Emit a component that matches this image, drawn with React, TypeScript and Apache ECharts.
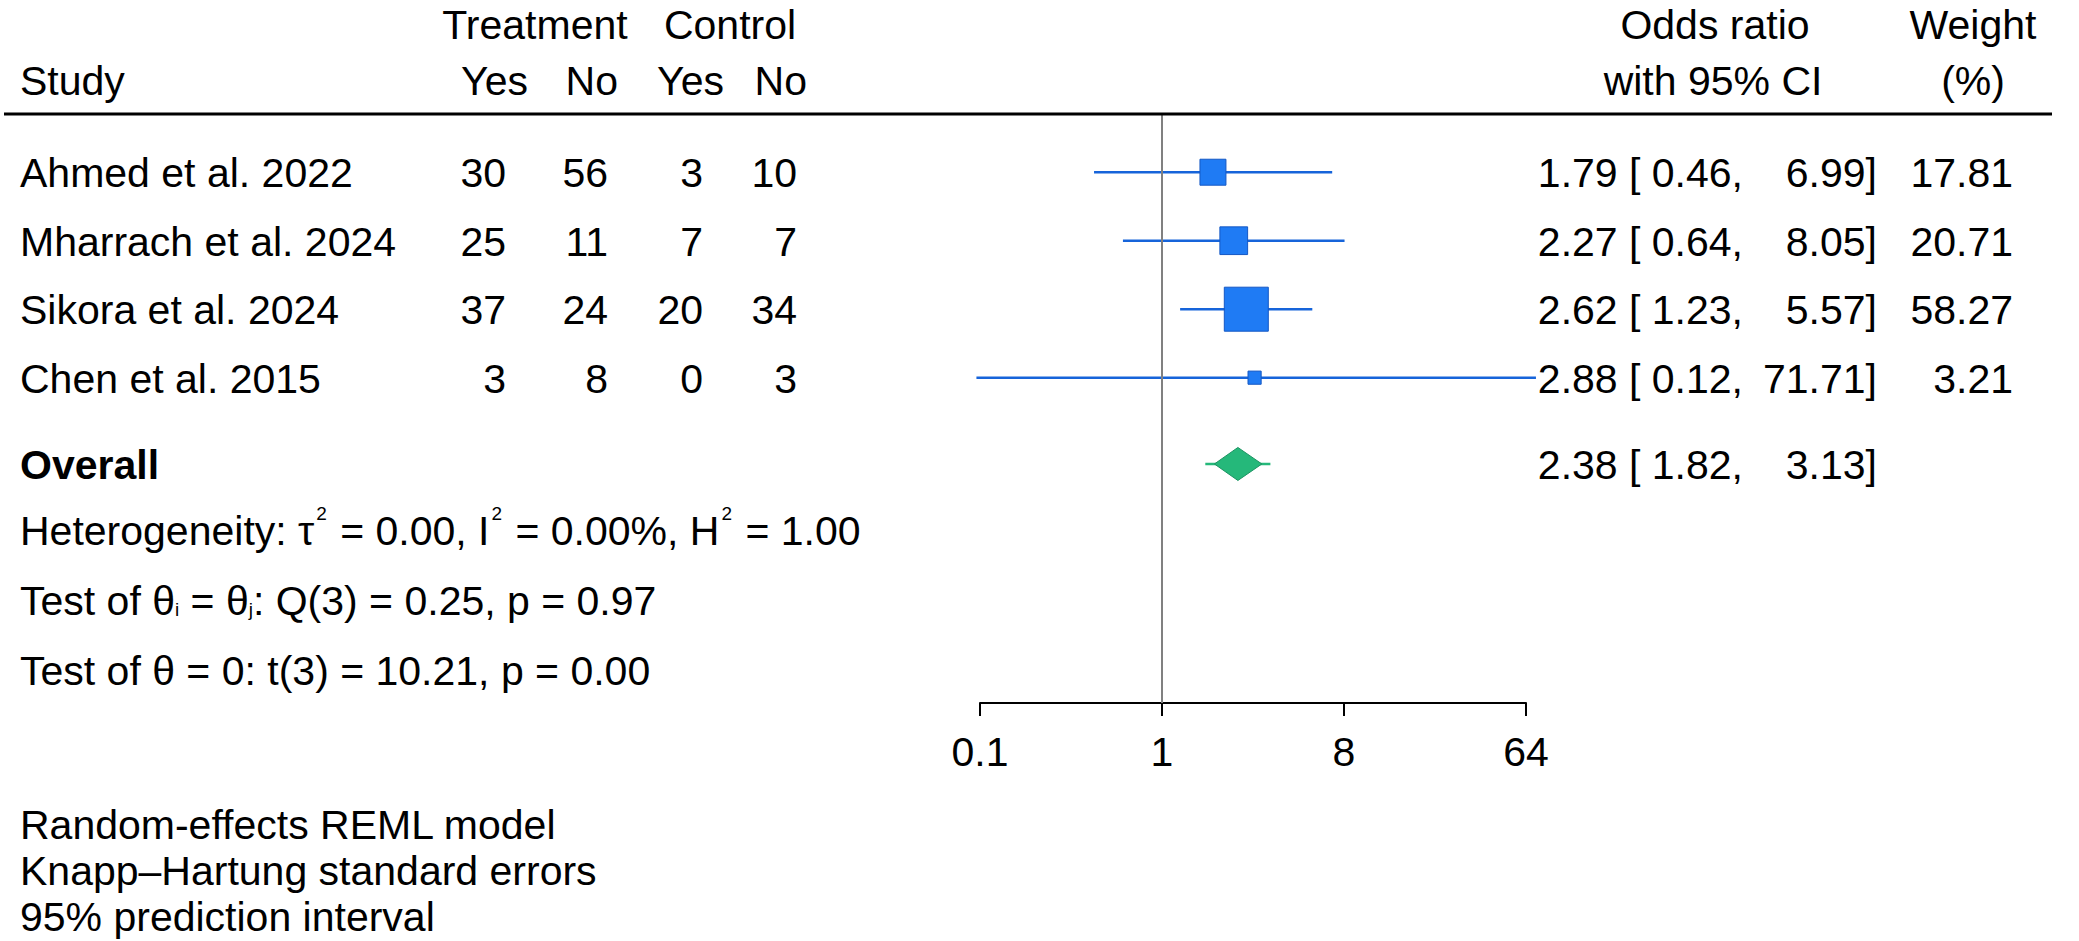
import React, { useEffect, useRef } from "react";
import * as echarts from "echarts";

// ---------------- data ----------------
const studies = ["Ahmed et al. 2022", "Mharrach et al. 2024", "Sikora et al. 2024", "Chen et al. 2015"];
const treatmentYes = [30, 25, 37, 3];
const treatmentNo = [56, 11, 24, 8];
const controlYes = [3, 7, 20, 0];
const controlNo = [10, 7, 34, 3];
const oddsRatio = [1.79, 2.27, 2.62, 2.88];
const ciLower = [0.46, 0.64, 1.23, 0.12];
const ciUpper = [6.99, 8.05, 5.57, 71.71];
const weights = [17.81, 20.71, 58.27, 3.21];
// overall: estimate, lower, upper
const overallEstimate = [2.38, 1.82, 3.13];
// 95% prediction interval (lower, upper)
const predictionInterval = [1.64, 3.45];
const xTickValues = [0.125, 1, 8, 64];
const xTickLabels = ["0.1", "1", "8", "64"];
const heterogeneity = ["0.00", "0.00%", "1.00"]; // tau2, I2, H2
const testQ = ["3", "0.25", "0.97"]; // df, Q, p
const testT = ["3", "10.21", "0.00"]; // df, t, p
const notes = ["Random-effects REML model", "Knapp\u2013Hartung standard errors", "95% prediction interval"];

// ---------------- layout ----------------
const W = 2079;
const H = 941;
const FONT = '"Liberation Sans", Arial, Helvetica, sans-serif';
const FS = 41;
const SMALL_FS = 19;
const GRID_TOP = 114;
const AXIS_Y = 703;
const X_LEFT = 980;
const X_RIGHT = 1526;
const Y_MIN = 0.15;
const Y_MAX = 8.75;
const STUDY_ROWS = [1, 2, 3, 4];
const OVERALL_ROW = 5.26;
const rowPx = (r: number) => GRID_TOP + ((r - Y_MIN) * (AXIS_Y - GRID_TOP)) / (Y_MAX - Y_MIN);

const BLUE_LINE = "#1664da";
const BLUE_FILL = "#1f7bf4";
const BLUE_EDGE = "#1558c4";
const GREEN_FILL = "#25b87a";
const GREEN_EDGE = "#1c9462";

let measureCtx: CanvasRenderingContext2D | null = null;
function textWidth(t: string, size: number, weight = "normal") {
  if (!measureCtx) measureCtx = document.createElement("canvas").getContext("2d");
  if (!measureCtx) return t.length * size * 0.5;
  measureCtx.font = `${weight} ${size}px ${FONT}`;
  return measureCtx.measureText(t).width;
}

function txt(text: string, x: number, y: number, opts: any = {}) {
  const align = opts.align ?? "left";
  const style: any = {
    text,
    fill: "#000",
    fontSize: opts.size ?? FS,
    fontFamily: FONT,
    fontWeight: opts.weight ?? "normal",
    align,
    textAlign: align,
    verticalAlign: "middle",
    textVerticalAlign: "middle",
  };
  return { type: "text", x, y, silent: true, style };
}

type Part = [string, "n" | "sup" | "sub"];
function partsLine(parts: Part[], x0: number, y: number) {
  const els: any[] = [];
  let x = x0;
  for (const [t, kind] of parts) {
    const size = kind === "n" ? FS : SMALL_FS;
    const dy = kind === "sup" ? -18 : kind === "sub" ? 8 : 0;
    const pad = kind === "sup" ? 2 : 0;
    const lead = t.length - t.replace(/^\s+/, "").length;
    const leadW = lead ? textWidth(t.slice(0, lead), size) : 0;
    const body = t.trim();
    if (body) els.push(txt(body, x + leadW + pad, y + dy, { size }));
    x += textWidth(t, size) + pad * 2;
  }
  return els;
}

export default function App() {
  const ref = useRef<HTMLDivElement>(null);

  useEffect(() => {
    if (!ref.current) return;
    const chart = echarts.init(ref.current, undefined, { renderer: "svg", width: W, height: H });

    const studyData = studies.map((_, i) => [oddsRatio[i], ciLower[i], ciUpper[i], STUDY_ROWS[i], weights[i]]);
    const overallData = [[overallEstimate[0], overallEstimate[1], overallEstimate[2], OVERALL_ROW, predictionInterval[0], predictionInterval[1]]];

    const g: any[] = [];
    // header
    const HEAD1 = 24.5;
    const HEAD2 = 80.5;
    g.push(txt("Treatment", 535, HEAD1, { align: "center" }));
    g.push(txt("Control", 730, HEAD1, { align: "center" }));
    g.push(txt("Odds ratio", 1715, HEAD1, { align: "center" }));
    g.push(txt("Weight", 1973, HEAD1, { align: "center" }));
    g.push(txt("Study", 20, HEAD2));
    g.push(txt("Yes", 528, HEAD2, { align: "right" }));
    g.push(txt("No", 618, HEAD2, { align: "right" }));
    g.push(txt("Yes", 724, HEAD2, { align: "right" }));
    g.push(txt("No", 807, HEAD2, { align: "right" }));
    g.push(txt("with 95% CI", 1713, HEAD2, { align: "center" }));
    g.push(txt("(%)", 1973, HEAD2, { align: "center" }));
    g.push({
      type: "line",
      silent: true,
      shape: { x1: 4, y1: GRID_TOP, x2: 2052, y2: GRID_TOP },
      style: { stroke: "#000", lineWidth: 3 },
      z: 10,
    });

    // study rows
    studies.forEach((name, i) => {
      const y = rowPx(STUDY_ROWS[i]) + 1;
      g.push(txt(name, 20, y));
      g.push(txt(String(treatmentYes[i]), 506, y, { align: "right" }));
      g.push(txt(String(treatmentNo[i]), 608, y, { align: "right" }));
      g.push(txt(String(controlYes[i]), 703, y, { align: "right" }));
      g.push(txt(String(controlNo[i]), 797, y, { align: "right" }));
      g.push(txt(`${oddsRatio[i].toFixed(2)} [ ${ciLower[i].toFixed(2)},`, 1743, y, { align: "right" }));
      g.push(txt(`${ciUpper[i].toFixed(2)}]`, 1877, y, { align: "right" }));
      g.push(txt(weights[i].toFixed(2), 2013, y, { align: "right" }));
    });

    // overall
    const yo = rowPx(OVERALL_ROW) + 1;
    g.push(txt("Overall", 20, yo, { weight: "bold" }));
    g.push(txt(`${overallEstimate[0].toFixed(2)} [ ${overallEstimate[1].toFixed(2)},`, 1743, yo, { align: "right" }));
    g.push(txt(`${overallEstimate[2].toFixed(2)}]`, 1877, yo, { align: "right" }));

    // statistics
    g.push(
      ...partsLine(
        [
          ["Heterogeneity: \u03c4", "n"],
          ["2", "sup"],
          [` = ${heterogeneity[0]}, I`, "n"],
          ["2", "sup"],
          [` = ${heterogeneity[1]}, H`, "n"],
          ["2", "sup"],
          [` = ${heterogeneity[2]}`, "n"],
        ],
        20,
        531
      )
    );
    g.push(
      ...partsLine(
        [
          ["Test of \u03b8", "n"],
          ["i", "sub"],
          [" = \u03b8", "n"],
          ["j", "sub"],
          [`: Q(${testQ[0]}) = ${testQ[1]}, p = ${testQ[2]}`, "n"],
        ],
        20,
        601
      )
    );
    g.push(txt(`Test of \u03b8 = 0: t(${testT[0]}) = ${testT[1]}, p = ${testT[2]}`, 20, 671));

    // footnotes
    notes.forEach((n, i) => g.push(txt(n, 20, 825 + i * 46)));

    const option: any = {
      animation: false,
      backgroundColor: "#ffffff",
      grid: { left: X_LEFT, right: W - X_RIGHT, top: GRID_TOP, bottom: H - AXIS_Y, containLabel: false },
      xAxis: {
        type: "log",
        logBase: 8,
        min: xTickValues[0],
        max: xTickValues[xTickValues.length - 1],
        splitNumber: 3,
        axisLine: { show: true, onZero: false, lineStyle: { color: "#000", width: 2 } },
        axisTick: { show: true, length: 13, lineStyle: { color: "#000", width: 2 } },
        axisLabel: {
          fontSize: FS,
          fontFamily: FONT,
          color: "#000",
          margin: 28,
          formatter: (v: number) => {
            const idx = xTickValues.findIndex((t) => Math.abs(Math.log(t) - Math.log(v)) < 1e-6);
            return idx >= 0 ? xTickLabels[idx] : "";
          },
        },
        splitLine: { show: false },
      },
      yAxis: { type: "value", inverse: true, min: Y_MIN, max: Y_MAX, show: false },
      series: [
        {
          type: "custom",
          name: "studies",
          clip: false,
          silent: true,
          encode: { x: [0, 1, 2], y: 3 },
          data: studyData,
          renderItem: (_p: any, api: any) => {
            const y = api.value(3);
            const c = api.coord([api.value(0), y]);
            const l = api.coord([api.value(1), y]);
            const h = api.coord([api.value(2), y]);
            const side = 3.7 + 5.28 * Math.sqrt(api.value(4));
            return {
              type: "group",
              children: [
                {
                  type: "line",
                  shape: { x1: l[0], y1: l[1], x2: h[0], y2: h[1] },
                  style: { stroke: BLUE_LINE, lineWidth: 2.6 },
                },
                {
                  type: "rect",
                  shape: { x: c[0] - side / 2, y: c[1] - side / 2, width: side, height: side },
                  style: { fill: BLUE_FILL, stroke: BLUE_EDGE, lineWidth: 1 },
                },
              ],
            };
          },
          markLine: {
            silent: true,
            symbol: ["none", "none"],
            label: { show: false },
            lineStyle: { color: "#808080", width: 2, type: "solid" },
            data: [{ xAxis: 1 }],
          },
          z: 3,
        },
        {
          type: "custom",
          name: "overall",
          clip: false,
          silent: true,
          encode: { x: [0, 1, 2, 4, 5], y: 3 },
          data: overallData,
          renderItem: (_p: any, api: any) => {
            const y = api.value(3);
            const c = api.coord([api.value(0), y]);
            const l = api.coord([api.value(1), y]);
            const h = api.coord([api.value(2), y]);
            const pl = api.coord([api.value(4), y]);
            const ph = api.coord([api.value(5), y]);
            const hh = 16.5;
            return {
              type: "group",
              children: [
                {
                  type: "line",
                  shape: { x1: pl[0], y1: pl[1], x2: ph[0], y2: ph[1] },
                  style: { stroke: GREEN_FILL, lineWidth: 2.6 },
                },
                {
                  type: "polygon",
                  shape: {
                    points: [
                      [l[0], c[1]],
                      [c[0], c[1] - hh],
                      [h[0], c[1]],
                      [c[0], c[1] + hh],
                    ],
                  },
                  style: { fill: GREEN_FILL, stroke: GREEN_EDGE, lineWidth: 1 },
                },
              ],
            };
          },
          z: 4,
        },
      ],
      graphic: { elements: g },
    };

    chart.setOption(option);
    return () => chart.dispose();
  }, []);

  return (
    <div
      ref={ref}
      style={{ position: "fixed", left: 0, top: 0, width: W, height: H, background: "#fff" }}
    />
  );
}
